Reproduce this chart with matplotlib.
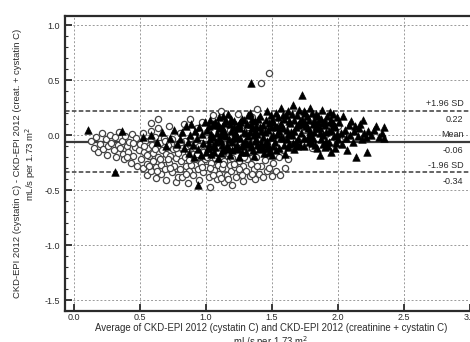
import matplotlib
matplotlib.use("Agg")
import matplotlib.pyplot as plt
from matplotlib.ticker import MultipleLocator

# eGFR cystatin C vs. combined creatinine + cystatin C (mL/s per 1.73 m2)
# circles: first group, triangles: second group  -- (average, difference)
circle_pts = [
    (0.13, -0.05), (0.15, -0.12), (0.17, -0.02), (0.18, -0.15), (0.20, -0.08), (0.21, 0.02),
    (0.22, -0.13), (0.24, -0.04), (0.25, -0.18), (0.26, -0.10), (0.27, 0.00), (0.28, -0.07),
    (0.30, -0.14), (0.31, -0.02), (0.32, -0.20), (0.33, -0.09), (0.34, 0.03), (0.35, -0.12),
    (0.36, -0.05), (0.37, -0.17), (0.38, -0.22), (0.39, -0.01), (0.40, -0.10), (0.41, -0.15),
    (0.42, -0.06), (0.43, -0.25), (0.44, 0.01), (0.45, -0.19), (0.46, -0.11), (0.47, -0.03),
    (0.48, -0.28), (0.49, -0.14), (0.45, -0.07), (0.40, -0.20),
    (0.50, -0.08), (0.51, -0.22), (0.52, -0.30), (0.52, 0.02), (0.53, -0.15), (0.54, -0.05),
    (0.55, -0.26), (0.55, -0.36), (0.56, -0.12), (0.57, -0.19), (0.58, 0.04), (0.58, -0.33),
    (0.58, 0.11), (0.59, -0.09), (0.60, -0.24), (0.60, -0.16), (0.61, -0.02), (0.62, -0.29),
    (0.62, -0.39), (0.63, -0.11), (0.64, -0.20), (0.64, 0.15), (0.64, 0.06), (0.65, -0.07),
    (0.66, -0.27), (0.66, -0.35), (0.67, -0.14), (0.68, -0.22), (0.68, -0.03), (0.69, -0.31),
    (0.70, -0.17), (0.70, -0.41), (0.71, -0.09), (0.72, -0.25), (0.72, 0.08), (0.73, -0.19),
    (0.74, -0.34), (0.74, -0.04), (0.75, -0.13), (0.76, -0.28), (0.77, -0.21), (0.77, -0.43),
    (0.78, -0.08), (0.79, -0.16), (0.80, -0.31), (0.80, 0.02),
    (0.53, -0.10), (0.57, -0.28), (0.61, -0.13), (0.65, -0.22), (0.69, -0.05), (0.73, -0.30),
    (0.77, -0.12), (0.55, -0.18), (0.63, -0.33), (0.71, -0.22), (0.79, -0.38),
    (0.81, -0.24), (0.82, -0.12), (0.82, -0.38), (0.83, 0.10), (0.84, -0.20), (0.84, -0.05),
    (0.85, -0.28), (0.86, -0.15), (0.86, -0.44), (0.87, -0.33), (0.88, -0.09), (0.88, 0.15),
    (0.89, -0.22), (0.90, -0.17), (0.90, -0.36), (0.91, -0.02), (0.92, -0.27), (0.92, -0.12),
    (0.93, 0.06), (0.94, -0.31), (0.94, -0.20), (0.95, -0.41), (0.96, -0.07), (0.96, -0.25),
    (0.97, 0.12), (0.98, -0.15), (0.98, -0.34), (0.99, -0.22), (1.00, -0.10), (1.00, -0.29),
    (1.01, 0.03), (1.02, -0.38), (1.02, -0.18), (1.03, -0.47), (1.04, -0.25), (1.04, -0.05),
    (1.05, 0.18), (1.06, -0.32), (1.06, -0.14), (1.07, -0.21), (1.08, 0.08), (1.08, -0.40),
    (1.09, -0.27), (1.10, -0.11), (1.10, -0.35),
    (0.81, -0.06), (0.85, -0.35), (0.89, -0.27), (0.93, -0.17), (0.97, -0.29), (1.01, -0.20),
    (1.05, -0.36), (1.09, -0.16), (0.87, -0.23), (0.95, -0.10), (1.03, -0.30),
    (1.11, 0.22), (1.12, -0.19), (1.12, -0.30), (1.13, 0.01), (1.14, -0.24), (1.14, -0.43),
    (1.15, -0.08), (1.16, -0.36), (1.16, 0.14), (1.17, -0.16), (1.18, -0.27), (1.18, 0.05),
    (1.19, -0.33), (1.20, -0.21), (1.20, -0.45), (1.21, 0.10), (1.22, -0.13), (1.22, -0.29),
    (1.23, -0.38), (1.24, 0.19), (1.24, -0.06), (1.25, -0.24), (1.26, -0.34), (1.26, 0.02),
    (1.27, -0.18), (1.28, -0.42), (1.28, -0.28), (1.29, 0.12), (1.30, -0.10), (1.30, -0.33),
    (1.31, -0.22), (1.32, 0.07), (1.33, -0.37), (1.33, -0.15), (1.34, -0.26), (1.35, 0.16),
    (1.36, -0.31), (1.36, -0.04), (1.37, -0.40), (1.38, -0.20), (1.39, 0.24), (1.40, -0.35),
    (1.41, -0.12), (1.42, 0.47), (1.42, -0.28), (1.43, -0.38), (1.44, 0.05), (1.45, -0.23),
    (1.13, -0.26), (1.17, -0.40), (1.21, -0.26), (1.25, -0.31), (1.29, -0.20), (1.35, -0.35),
    (1.39, -0.28), (1.11, -0.39), (1.19, -0.10), (1.27, -0.36),
    (1.46, -0.33), (1.47, -0.16), (1.48, 0.56), (1.48, -0.30), (1.50, -0.37), (1.50, -0.08),
    (1.51, -0.25), (1.52, 0.12), (1.53, -0.33), (1.55, -0.20), (1.56, -0.36), (1.58, -0.14),
    (1.60, -0.30), (1.62, -0.22), (1.65, -0.10), (1.70, -0.05), (1.75, 0.05), (1.80, -0.12),
    (1.85, 0.10), (1.90, 0.00), (1.95, -0.06), (2.00, 0.08), (2.05, -0.02),
]

triangle_pts = [
    (0.11, 0.05), (0.36, 0.04), (0.31, -0.34), (0.94, -0.45),
    (0.52, -0.02), (0.58, 0.00), (0.63, -0.06), (0.67, 0.03), (0.70, -0.10), (0.73, -0.03),
    (0.76, 0.05), (0.78, -0.08),
    (0.80, -0.04), (0.82, 0.03), (0.83, -0.12), (0.85, 0.08), (0.86, -0.06), (0.87, -0.16),
    (0.88, 0.00), (0.89, 0.10), (0.90, -0.09), (0.91, -0.20), (0.92, 0.04), (0.93, -0.03),
    (0.94, -0.13), (0.95, 0.07), (0.96, -0.18), (0.97, 0.01), (0.98, -0.07), (0.99, 0.12),
    (1.00, -0.15),
    (1.01, 0.05), (1.02, -0.08), (1.03, 0.14), (1.04, -0.17), (1.05, -0.02), (1.06, 0.09),
    (1.07, -0.11), (1.08, 0.02), (1.09, -0.21), (1.10, 0.16), (1.11, -0.05), (1.12, 0.07),
    (1.13, -0.14), (1.14, 0.11), (1.15, -0.01), (1.16, -0.09), (1.17, 0.19), (1.18, -0.18),
    (1.19, 0.04), (1.20, -0.06), (1.21, 0.13), (1.22, -0.12), (1.23, 0.00), (1.24, 0.08),
    (1.25, -0.20), (1.26, -0.03), (1.27, 0.15), (1.28, -0.08), (1.29, 0.03), (1.30, -0.15),
    (1.31, 0.10), (1.32, -0.01), (1.33, 0.20), (1.34, 0.47), (1.34, -0.11), (1.35, 0.06),
    (1.36, -0.19), (1.37, 0.13), (1.38, -0.04), (1.39, 0.01), (1.40, -0.13), (1.41, 0.17),
    (1.42, -0.07), (1.43, 0.09), (1.44, -0.16), (1.45, 0.03), (1.46, 0.22), (1.47, -0.10),
    (1.48, 0.11), (1.49, -0.02), (1.50, -0.18),
    (1.015, -0.12), (1.035, 0.01), (1.055, 0.10), (1.075, -0.06), (1.095, 0.06), (1.115, -0.16),
    (1.135, 0.00), (1.155, 0.13), (1.175, -0.04), (1.195, -0.14), (1.215, 0.07), (1.235, -0.09),
    (1.255, 0.12), (1.275, -0.15), (1.295, -0.05), (1.315, 0.18), (1.335, -0.07), (1.355, -0.14),
    (1.375, 0.04), (1.395, 0.15), (1.415, -0.09), (1.435, -0.02), (1.455, 0.14), (1.475, -0.15),
    (1.495, 0.07),
    (1.02, 0.08), (1.06, -0.15), (1.10, -0.03), (1.14, 0.04), (1.18, 0.10), (1.22, 0.03),
    (1.26, 0.06), (1.30, 0.02), (1.34, 0.10), (1.38, 0.08), (1.42, 0.04), (1.46, -0.05),
    (1.50, 0.14), (1.12, -0.09), (1.24, -0.13), (1.36, 0.00), (1.48, -0.12),
    (1.03, -0.04), (1.07, 0.12), (1.11, 0.01), (1.15, -0.13), (1.19, 0.15), (1.23, -0.03),
    (1.27, -0.10), (1.31, -0.08), (1.35, 0.15), (1.39, -0.09), (1.43, -0.12), (1.47, 0.05),
    (1.05, -0.10), (1.09, 0.10), (1.13, 0.17), (1.17, -0.12), (1.21, -0.01), (1.25, 0.10),
    (1.29, 0.14), (1.33, 0.03), (1.37, -0.05), (1.41, 0.07), (1.45, -0.08), (1.49, 0.18),
    (1.51, 0.12), (1.52, -0.06), (1.53, 0.20), (1.54, 0.01), (1.55, -0.12), (1.56, 0.09),
    (1.57, 0.25), (1.58, -0.03), (1.59, 0.15), (1.60, -0.17), (1.61, 0.05), (1.62, 0.22),
    (1.63, -0.08), (1.64, 0.11), (1.65, 0.00), (1.66, 0.27), (1.67, -0.13), (1.68, 0.07),
    (1.69, 0.18), (1.70, -0.04), (1.71, 0.13), (1.72, 0.02), (1.73, 0.36), (1.74, -0.10),
    (1.75, 0.20), (1.76, 0.08), (1.77, -0.02), (1.78, 0.14), (1.79, 0.25), (1.80, -0.07),
    (1.81, 0.10), (1.82, 0.03), (1.83, 0.19), (1.84, -0.12), (1.85, 0.06), (1.86, -0.18),
    (1.87, 0.15), (1.88, 0.23), (1.89, 0.00), (1.90, 0.09), (1.91, -0.05), (1.92, 0.17),
    (1.93, 0.04), (1.94, 0.21), (1.95, -0.15), (1.96, 0.11), (1.97, -0.01), (1.98, 0.07),
    (1.99, 0.16), (2.00, -0.04),
    (1.505, -0.10), (1.525, 0.08), (1.545, 0.16), (1.565, -0.02), (1.585, 0.06), (1.605, 0.18),
    (1.625, -0.11), (1.645, 0.03), (1.665, 0.14), (1.685, -0.06), (1.705, 0.23), (1.725, 0.10),
    (1.745, -0.03), (1.765, 0.17), (1.785, 0.04), (1.805, 0.20), (1.825, -0.09), (1.845, 0.12),
    (1.865, 0.02), (1.885, -0.08), (1.905, 0.13), (1.925, -0.10), (1.945, 0.05), (1.965, 0.19),
    (1.985, -0.07),
    (1.51, 0.00), (1.55, 0.04), (1.59, -0.09), (1.63, 0.13), (1.67, 0.04), (1.71, -0.09),
    (1.75, 0.11), (1.79, 0.00), (1.83, 0.08), (1.87, -0.04), (1.91, 0.03), (1.95, 0.14),
    (1.99, 0.01),
    (1.53, -0.14), (1.57, 0.10), (1.61, -0.04), (1.65, 0.19), (1.69, -0.10), (1.73, 0.15),
    (1.77, 0.06), (1.81, -0.03), (1.85, 0.17), (1.89, 0.11), (1.93, -0.06), (1.97, 0.09),
    (1.54, 0.07), (1.58, 0.18), (1.62, 0.01), (1.66, -0.07), (1.70, 0.09), (1.74, 0.22),
    (1.78, -0.06), (1.82, 0.14), (1.86, 0.06), (1.90, -0.11), (1.94, 0.12), (1.98, -0.12),
    (2.01, 0.12), (2.02, 0.02), (2.03, -0.08), (2.04, 0.17), (2.05, 0.05), (2.06, -0.03),
    (2.07, -0.14), (2.08, 0.09), (2.09, 0.00), (2.10, 0.13), (2.11, -0.06), (2.12, 0.04),
    (2.13, 0.08), (2.14, -0.20), (2.15, -0.01), (2.16, 0.06), (2.17, 0.10), (2.18, -0.04),
    (2.19, 0.14), (2.20, 0.02), (2.21, -0.02), (2.22, -0.15), (2.23, 0.04), (2.25, 0.00),
    (2.27, 0.05), (2.29, 0.08), (2.31, -0.02), (2.33, 0.02), (2.35, 0.07), (2.35, -0.03),
]

# limits of agreement: (label above the line, value)
mean_diff = -0.06
upper_loa = 0.22
lower_loa = -0.34
loa_lines = [("+1.96 SD", upper_loa), ("Mean", mean_diff), ("-1.96 SD", lower_loa)]

x_ticks = [0.0, 0.5, 1.0, 1.5, 2.0, 2.5, 3.0]
y_ticks = [1.0, 0.5, 0.0, -0.5, -1.0, -1.5]

ink = "#2b2b2b"
plt.rcParams["font.family"] = ["Liberation Sans", "DejaVu Sans"]

fig = plt.figure(figsize=(4.70, 3.42), dpi=100)
ax = fig.add_axes([0.1383, 0.0906, 0.8766, 0.8626])

cx, cy = zip(*circle_pts)
tx, ty = zip(*triangle_pts)
ax.scatter(cx, cy, s=20, marker="o", facecolors="white", edgecolors="#444444",
           linewidths=0.9, zorder=3)
ax.scatter(tx, ty, s=30, marker="^", color="black", linewidths=0.4, zorder=4)

# agreement lines + right-hand annotations
for name, val in loa_lines:
    if name == "Mean":
        ax.axhline(val, color="#3a3a3a", lw=1.6, zorder=2)
    else:
        ax.axhline(val, color="#3a3a3a", lw=1.1, ls=(0, (3, 1.5)), zorder=2)
    ax.text(2.95, val + 0.025, name, ha="right", va="bottom", fontsize=6.5, color=ink)
    ax.text(2.95, val - 0.04, f"{val:.2f}", ha="right", va="top", fontsize=6.5, color=ink)

ax.set_xlim(-0.068, 3.053)
ax.set_ylim(-1.6, 1.082)
ax.set_xticks(x_ticks)
ax.set_xticklabels([f"{v:.1f}" for v in x_ticks])
ax.set_yticks(y_ticks)
ax.set_yticklabels([f"{v:.1f}" for v in y_ticks])
ax.yaxis.set_minor_locator(MultipleLocator(0.1))
ax.tick_params(axis="both", which="major", direction="in", length=5, width=1.3,
               labelsize=6.5, labelcolor=ink, color=ink)
ax.tick_params(axis="y", which="minor", direction="in", length=2.5, width=0.8, color=ink)
ax.tick_params(axis="x", pad=1.5)
ax.grid(True, which="major", color="#9a9a9a", lw=0.7, ls=(0, (2, 2)), zorder=1)

for sp in ax.spines.values():
    sp.set_linewidth(1.6)
    sp.set_color(ink)

ax.set_xlabel("Average of CKD-EPI 2012 (cystatin C) and CKD-EPI 2012 (creatinine + cystatin C)\n"
              "mL/s per 1.73 m$^2$", fontsize=6.9, color=ink, labelpad=1, linespacing=1.05)
ax.set_ylabel("CKD-EPI 2012 (cystatin C) - CKD-EPI 2012 (creat. + cystatin C)\n"
              "mL/s per 1.73 m$^2$", fontsize=6.8, color=ink, labelpad=5, linespacing=1.1)

fig.savefig("out.png", dpi=100)
